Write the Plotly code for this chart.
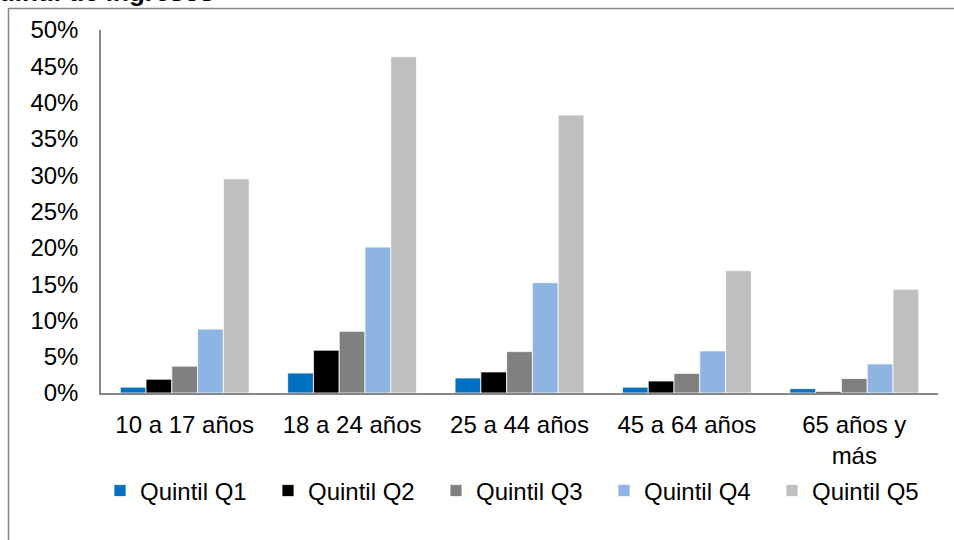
import plotly.graph_objects as go

categories = ["10 a 17 años", "18 a 24 años", "25 a 44 años", "45 a 64 años", "65 años y<br>más"]
series_names = ["Quintil Q1", "Quintil Q2", "Quintil Q3", "Quintil Q4", "Quintil Q5"]
q1 = [0.008, 0.0275, 0.0207, 0.008, 0.006]
q2 = [0.019, 0.059, 0.029, 0.0165, 0.002]
q3 = [0.037, 0.085, 0.057, 0.027, 0.020]
q4 = [0.088, 0.201, 0.152, 0.058, 0.040]
q5 = [0.295, 0.463, 0.383, 0.1685, 0.143]
colors = ["#0070C0", "#000000", "#808080", "#8EB4E3", "#BFBFBF"]
y_ticks = [0, 0.05, 0.10, 0.15, 0.20, 0.25, 0.30, 0.35, 0.40, 0.45, 0.50]
title_text = "por quintil de ingresos"

W, H = 954, 540
ML, MR, MT, MB = 101, 16, 30, 147
PW, PH = W - ML - MR, H - MT - MB

def px(x):
    return (x - ML) / PW

def py(y):
    return (H - MB - y) / PH

fig = go.Figure()
for name, vals, col in zip(series_names, [q1, q2, q3, q4, q5], colors):
    fig.add_trace(go.Bar(
        x=categories, y=vals, name=name,
        marker=dict(color=col, line=dict(color="white", width=0.8)),
    ))

font_family = "Liberation Sans, Arial, sans-serif"

fig.update_layout(
    width=W, height=H,
    margin=dict(l=ML, r=MR, t=MT, b=MB, autoexpand=False),
    paper_bgcolor="white", plot_bgcolor="white",
    font=dict(family=font_family, size=24, color="black"),
    barmode="group", bargap=0.23, bargroupgap=0,
    showlegend=True,
    legend=dict(
        orientation="h", xref="container", yref="container",
        x=100 / W, xanchor="left", y=1 - 491 / H, yanchor="middle",
        entrywidth=123, entrywidthmode="pixels",
        font=dict(size=24), itemclick=False, tracegroupgap=0,
        bgcolor="rgba(0,0,0,0)",
    ),
    xaxis=dict(
        showline=True, linecolor="#868686", linewidth=1.5,
        ticks="", showgrid=False, tickfont=dict(size=24),
        ticklabelstandoff=9, automargin=False,
        fixedrange=True,
    ),
    yaxis=dict(
        range=[0, 0.5], tickvals=y_ticks, tickformat=".0%",
        showline=True, linecolor="#868686", linewidth=1.5,
        ticks="", showgrid=False, zeroline=False,
        tickfont=dict(size=24), ticklabelstandoff=16,
        automargin=False, fixedrange=True,
    ),
)

# outer chart frame (left and top edges)
fig.add_shape(type="line", xref="paper", yref="paper",
              x0=px(8.5), x1=px(8.5), y0=py(8), y1=py(560),
              line=dict(color="#868686", width=1.5))
fig.add_shape(type="line", xref="paper", yref="paper",
              x0=px(8), x1=px(970), y0=py(8.5), y1=py(8.5),
              line=dict(color="#868686", width=1.5))

fig.add_annotation(
    text="<b>" + title_text + "</b>", xref="paper", yref="paper",
    x=px(216), y=py(9.5), xanchor="right", yanchor="bottom",
    showarrow=False, font=dict(size=26, color="black"),
)

fig.write_html("out.html", config={"displayModeBar": False},
               post_script="document.body.style.margin='0';")
